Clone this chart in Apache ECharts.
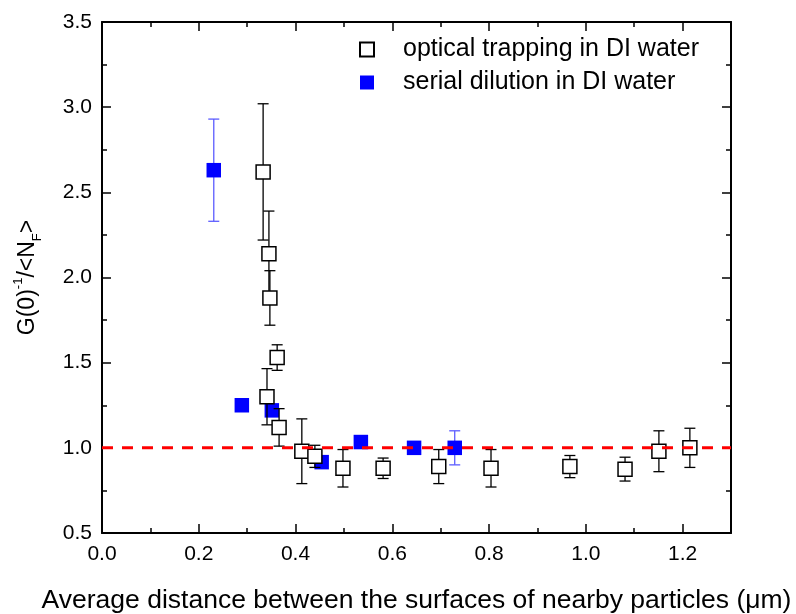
<!DOCTYPE html>
<html>
<head>
    <meta charset="utf-8">
    <title>G(0) vs distance</title>
    <script type="text/javascript" src="https://cdn.jsdelivr.net/npm/echarts@6/dist/echarts.min.js"></script>
    <style>
        body { margin: 0; background: #fff; }
    </style>
</head>
<body>
<div id="main" style="width: 796px;height:614px;"></div>
<script type="text/javascript">
    // optical trapping in DI water (open squares)
    var optX = [0.333, 0.345, 0.347, 0.362, 0.341, 0.366, 0.413, 0.440, 0.498, 0.581, 0.696, 0.804, 0.967, 1.081, 1.151, 1.215];
    var optY = [2.62, 2.14, 1.88, 1.53, 1.30, 1.12, 0.98, 0.95, 0.88, 0.88, 0.89, 0.88, 0.89, 0.875, 0.98, 1.00];
    var optErr = [0.40, 0.25, 0.16, 0.075, 0.165, 0.11, 0.19, 0.065, 0.11, 0.06, 0.10, 0.11, 0.065, 0.07, 0.12, 0.115];

    // serial dilution in DI water (filled squares)
    var serX = [0.231, 0.289, 0.351, 0.454, 0.535, 0.645, 0.729];
    var serY = [2.63, 1.25, 1.22, 0.916, 1.034, 1.00, 1.00];
    var serErr = [0.30, 0, 0, 0, 0, 0, 0.10];

    var refY = 1.0;
    var xRange = [0, 1.3];
    var yRange = [0.5, 3.5];
    var seriesNames = ['optical trapping in DI water', 'serial dilution in DI water'];

    var myChart = echarts.init(document.getElementById('main'));

    function pts(xs, ys) {
        return xs.map(function (x, i) { return [x, ys[i]]; });
    }
    function errPts(xs, ys, es) {
        return xs.map(function (x, i) { return [x, ys[i], es[i]]; });
    }

    // vertical error bar with caps
    function errBar(color) {
        return function (params, api) {
            var x = api.value(0), y = api.value(1), e = api.value(2);
            if (!(e > 0)) return;
            var hi = api.coord([x, y + e]);
            var lo = api.coord([x, y - e]);
            var w = 5.5;
            var st = { stroke: color, lineWidth: 1.3 };
            return {
                type: 'group',
                children: [
                    { type: 'line', shape: { x1: hi[0], y1: hi[1], x2: lo[0], y2: lo[1] }, style: st },
                    { type: 'line', shape: { x1: hi[0] - w, y1: hi[1], x2: hi[0] + w, y2: hi[1] }, style: st },
                    { type: 'line', shape: { x1: lo[0] - w, y1: lo[1], x2: lo[0] + w, y2: lo[1] }, style: st }
                ]
            };
        };
    }

    var font = 'Liberation Sans, Arial, sans-serif';
    var axisLine = { show: true, onZero: false, lineStyle: { color: '#000', width: 2 } };
    var axisTick = { show: true, inside: true, length: 9, lineStyle: { color: '#000', width: 1.5 } };
    var minorTick = { show: true, splitNumber: 2, length: 5, lineStyle: { color: '#000', width: 1.5 } };

    var option = {
        animation: false,
        backgroundColor: '#fff',
        grid: { left: 102, right: 65, top: 22, bottom: 81, outerBoundsMode: 'none', containLabel: false },
        legend: {
            orient: 'vertical',
            left: 354,
            top: 31,
            itemWidth: 14,
            itemHeight: 14,
            itemGap: 6,
            data: seriesNames,
            textStyle: { fontFamily: font, fontSize: 25, color: '#000', lineHeight: 27, padding: [0, 0, 0, 24] }
        },
        xAxis: [{
            type: 'value',
            min: xRange[0], max: xRange[1], interval: 0.2,
            name: 'Average distance between the surfaces of nearby particles (\u03bcm)',
            nameLocation: 'middle',
            nameGap: 54,
            nameTextStyle: { fontFamily: font, fontSize: 26.5, color: '#000' },
            axisLine: axisLine,
            axisTick: axisTick,
            minorTick: minorTick,
            splitLine: { show: false },
            axisLabel: {
                fontFamily: font, fontSize: 21, color: '#000', margin: 11,
                showMaxLabel: false,
                formatter: function (v) { return v.toFixed(1); }
            }
        }, {
            type: 'value', position: 'top',
            min: xRange[0], max: xRange[1], interval: 0.2,
            axisLine: axisLine,
            axisTick: axisTick,
            minorTick: minorTick,
            splitLine: { show: false },
            axisLabel: { show: false }
        }],
        yAxis: [{
            type: 'value',
            min: yRange[0], max: yRange[1], interval: 0.5,
            name: '{n|G(0)}{sup|-1}{n|/<N}{sub|F}{n|>}',
            nameLocation: 'middle',
            nameGap: 58,
            nameRotate: 90,
            nameTextStyle: {
                fontFamily: font, fontSize: 23, color: '#000',
                rich: {
                    n: { fontFamily: font, fontSize: 23, color: '#000', lineHeight: 32 },
                    sup: { fontFamily: font, fontSize: 13, color: '#000', verticalAlign: 'top', lineHeight: 32, padding: [0, 0, 10, 0] },
                    sub: { fontFamily: font, fontSize: 13, color: '#000', verticalAlign: 'bottom', lineHeight: 32, padding: [12, 0, 0, 0] }
                }
            },
            axisLine: axisLine,
            axisTick: axisTick,
            minorTick: minorTick,
            splitLine: { show: false },
            axisLabel: {
                fontFamily: font, fontSize: 21, color: '#000', margin: 10,
                formatter: function (v) { return v.toFixed(1); }
            }
        }, {
            type: 'value', position: 'right',
            min: yRange[0], max: yRange[1], interval: 0.5,
            axisLine: axisLine,
            axisTick: axisTick,
            minorTick: minorTick,
            splitLine: { show: false },
            axisLabel: { show: false }
        }],
        series: [{
            type: 'custom',
            name: 'serErr',
            renderItem: errBar('#5c5cff'),
            data: errPts(serX, serY, serErr),
            z: 2,
            silent: true
        }, {
            type: 'scatter',
            name: seriesNames[1],
            symbol: 'rect',
            symbolSize: 14.5,
            data: pts(serX, serY),
            itemStyle: { color: '#0000ff', opacity: 1 },
            z: 3
        }, {
            type: 'custom',
            name: 'optErr',
            renderItem: errBar('#000'),
            data: errPts(optX, optY, optErr),
            z: 4,
            silent: true
        }, {
            type: 'scatter',
            name: seriesNames[0],
            symbol: 'rect',
            symbolSize: 14,
            data: pts(optX, optY),
            itemStyle: { color: '#fff', borderColor: '#000', borderWidth: 1.5, opacity: 1 },
            z: 5
        }, {
            type: 'line',
            name: 'ref',
            data: [[xRange[0], refY], [xRange[1], refY]],
            symbol: 'none',
            lineStyle: { color: '#ff0000', width: 3, type: [11, 9] },
            z: 6,
            silent: true
        }]
    };

    myChart.setOption(option);
</script>
</body>
</html>
